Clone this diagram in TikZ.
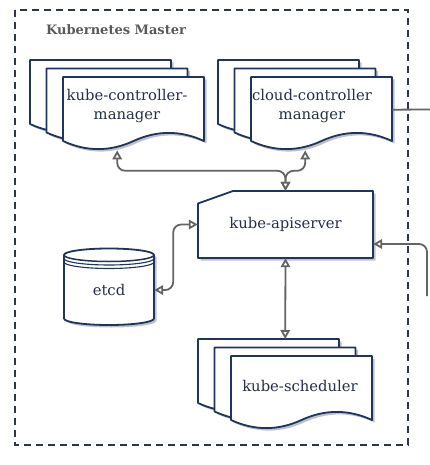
\documentclass[tikz,border=0pt]{standalone}
\usepackage{fontspec}
\setmainfont{DejaVu Serif}
\usetikzlibrary{arrows.meta,shadows}

\definecolor{docblue}{RGB}{32,52,92}
\definecolor{textblue}{RGB}{38,48,72}
\definecolor{linkgray}{RGB}{100,100,100}
\definecolor{titlegray}{RGB}{90,90,90}
\definecolor{framegray}{RGB}{45,55,72}
\definecolor{shadowgray}{RGB}{190,194,204}

% one document sheet, top left corner at (#1,#2)
\newcommand{\onedoc}[2]{%
  \begin{scope}[shift={(#1,#2)}]
    \draw[docline] (0,0) -- (141,0) -- (141,64)
      .. controls (117.5,53.2) and (94,53.2) .. (70.5,64)
      .. controls (47,74.8) and (23.5,74.8) .. (0,64) -- cycle;
  \end{scope}}
% three stacked sheets
\newcommand{\docstack}[2]{%
  \onedoc{#1}{#2}
  \onedoc{#1+16.5}{#2+8.5}
  \onedoc{#1+33}{#2+17}}

\begin{document}
\begin{tikzpicture}
        [x=1pt, y=-1pt,
        docline/.style={draw=docblue, line width=1.8pt, fill=white, line join=round,
          drop shadow={shadow xshift=2.5pt, shadow yshift=-2.5pt, fill=shadowgray, opacity=1}},
        thinline/.style={draw=docblue, line width=1.1pt},
        group/.style={inner sep=0pt, anchor=north west, minimum width=174pt, minimum height=90pt},
        doctext/.style={text=textblue, font=\fontsize{14.8}{18.5}\selectfont, align=center},
        title/.style={text=titlegray, font=\bfseries\fontsize{13}{15}\selectfont},
        frame/.style={draw=framegray, line width=1.9pt, dash pattern=on 7pt off 5pt},
        link/.style={draw=linkgray, line width=1.8pt, rounded corners=8pt},
        both/.style={{Triangle[fill=white,length=9pt,width=9.5pt]}-{Triangle[fill=white,length=9pt,width=9.5pt]}},
        tip/.style={-{Triangle[fill=white,length=9pt,width=9.5pt]}}]

        \useasboundingbox (0,0) rectangle (429,465);
        \fill[white] (0,0) rectangle (429,465);

        % master frame
        \draw[frame] (15,10) rectangle (408,445);
        \node[title] (master-title) at (116,30) {Kubernetes Master};

        % stacked documents
        \docstack{30}{60}
        \docstack{218}{60}
        \docstack{198}{339}
        \node[group] (kcm) at (30,60) {};
        \node[group] (ccm) at (218,60) {};
        \node[group] (ksch) at (198,339) {};
        \node[doctext] (kcm-label) at (127,106) {kube-controller-\\manager};
        \node[doctext] (ccm-label) at (312,106) {cloud-controller\\manager};
        \node[doctext] (ksch-label) at (300,386) {kube-scheduler};

        % api server (card shape)
        \draw[docline] (198,203.5) -- (233,191) -- (373,191) -- (373,258) -- (198,258) -- cycle;
        \node[doctext, inner sep=0pt, minimum width=175pt, minimum height=67pt] (api) at (285.5,224.5) {kube-apiserver};

        % etcd datastore
        \draw[docline] (64,255) -- (64,318.5)
          arc[start angle=180, end angle=360, x radius=45pt, y radius=6.5pt] -- (154,255)
          arc[start angle=0, end angle=180, x radius=45pt, y radius=6.5pt] -- cycle;
        \draw[thinline, line width=1.5pt] (64,255) arc[start angle=180, end angle=360, x radius=45pt, y radius=6.5pt];
        \draw[thinline] (64,258.5) arc[start angle=180, end angle=360, x radius=45pt, y radius=6.5pt];
        \draw[thinline] (64,262) arc[start angle=180, end angle=360, x radius=45pt, y radius=6.5pt];
        \node[doctext, inner sep=0pt, minimum width=90pt, minimum height=70pt] (etcd) at (109,290) {etcd};

        % free ends outside the frame
        \coordinate (ccm-out) at (430,109.5);
        \coordinate (api-in) at (427,296);

        % connectors
        \draw[link, both] (api.north) -- ++(0,-20) -| (kcm.south);
        \draw[link, both] (api.north) -- ++(0,-20) -| (ccm.south);
        \draw[link, both] (etcd.east) -- ++(19,0) |- (api.west);
        \draw[link, both] (api.south) -- (ksch.north);
        \draw[link] ([yshift=-4.5pt]ccm.east) -- (ccm-out);
        \draw[link, tip] (api-in) |- ([yshift=-19.5pt]api.east);

    \end{tikzpicture}
\end{document}
